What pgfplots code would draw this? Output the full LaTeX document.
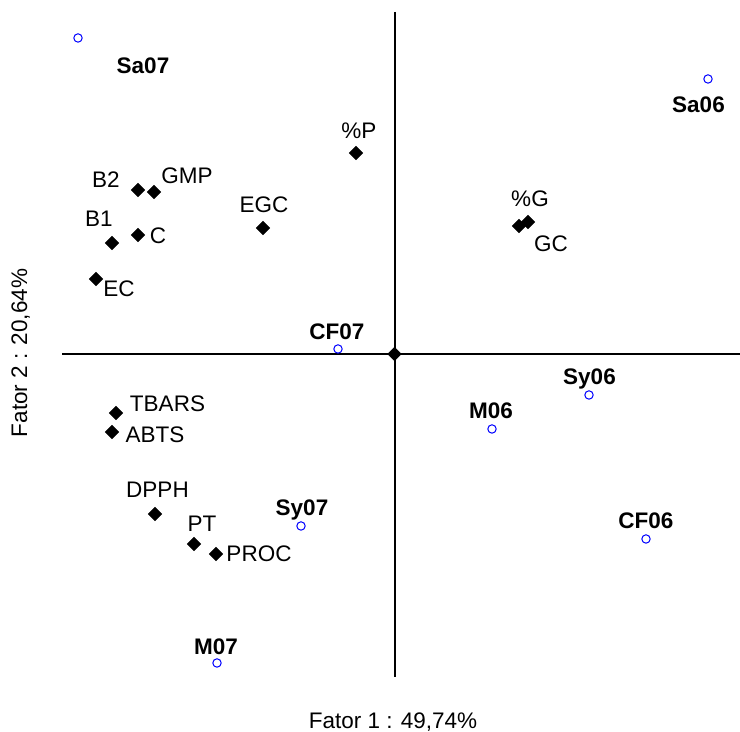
\documentclass[border=0pt]{standalone}
\usepackage{pgfplots}
\pgfplotsset{compat=1.18}
\usepackage{fontspec}
\setmainfont{Liberation Sans}
\definecolor{ptblue}{RGB}{0,0,255}
\begin{document}
\begin{tikzpicture}
\begin{axis}[
  scale only axis, width=370pt, height=366pt,
  xmin=-3.945, xmax=3.455, ymin=-3.78, ymax=3.54,
  hide axis, clip=false,
  font=\fontsize{11.25}{13.5}\selectfont,
]
\coordinate (bl) at (rel axis cs:0,0);
\coordinate (tr) at (rel axis cs:1,1);
% axes through the origin
\addplot[black, line width=1pt] coordinates {(-3.325,0) (3.455,0)};
\addplot[black, line width=1pt] coordinates {(0,3.42) (0,-3.23)};
% variables (loadings)
\addplot[only marks, mark=square*, mark size=2.35pt, mark options={rotate=45, fill=black, draw=black}] coordinates {
(-0.385,2.01) (-2.565,1.64) (-2.405,1.62) (-1.315,1.26) (1.245,1.28) (1.335,1.32)
(-2.825,1.11) (-2.565,1.19) (-2.985,0.75) (0,0) (-2.785,-0.59) (-2.825,-0.78)
(-2.395,-1.60) (-2.005,-1.90) (-1.785,-2.00)};
% samples (scores)
\addplot[only marks, mark=o, mark size=2.1pt, mark options={draw=ptblue, line width=0.5pt}] coordinates {
(-3.165,3.16) (3.135,2.75) (-0.565,0.05) (1.945,-0.41) (0.975,-0.75)
(-0.935,-1.72) (2.515,-1.85) (-1.775,-3.09)};
% sample labels
\begin{scope}[every node/.style={anchor=base, inner sep=0pt, font=\fontsize{11.25}{13.5}\selectfont\bfseries}]
\node at (axis cs:-2.515,2.80) {Sa07};
\node at (axis cs:3.04,2.41) {Sa06};
\node at (axis cs:-0.575,0.14) {CF07};
\node at (axis cs:1.95,-0.31) {Sy06};
\node at (axis cs:0.965,-0.65) {M06};
\node at (axis cs:2.515,-1.75) {CF06};
\node at (axis cs:-0.925,-1.62) {Sy07};
\node at (axis cs:-1.785,-3.01) {M07};
\end{scope}
% variable labels
\begin{scope}[every node/.style={anchor=base, inner sep=0pt, font=\fontsize{11.25}{13.5}\selectfont}]
\node at (axis cs:-0.355,2.15) {\%P};
\node at (axis cs:-2.885,1.66) {B2};
\node at (axis cs:-2.075,1.70) {GMP};
\node at (axis cs:-1.305,1.41) {EGC};
\node at (axis cs:1.355,1.47) {\%G};
\node at (axis cs:1.565,1.02) {GC};
\node at (axis cs:-2.955,1.27) {B1};
\node at (axis cs:-2.365,1.10) {C};
\node at (axis cs:-2.755,0.57) {EC};
\node at (axis cs:-2.27,-0.58) {TBARS};
\node at (axis cs:-2.395,-0.89) {ABTS};
\node at (axis cs:-2.37,-1.44) {DPPH};
\node at (axis cs:-1.925,-1.78) {PT};
\node at (axis cs:-1.355,-2.08) {PROC};
% axis titles
\node at (axis cs:-0.015,-3.75) {Fator 1 : 49,74\%};
\node[rotate=90] at (axis cs:-3.675,0.01) {Fator 2 : 20,64\%};
\end{scope}
\end{axis}
\pgfresetboundingbox
\path[use as bounding box] (bl) rectangle (tr);
\end{tikzpicture}
\end{document}
